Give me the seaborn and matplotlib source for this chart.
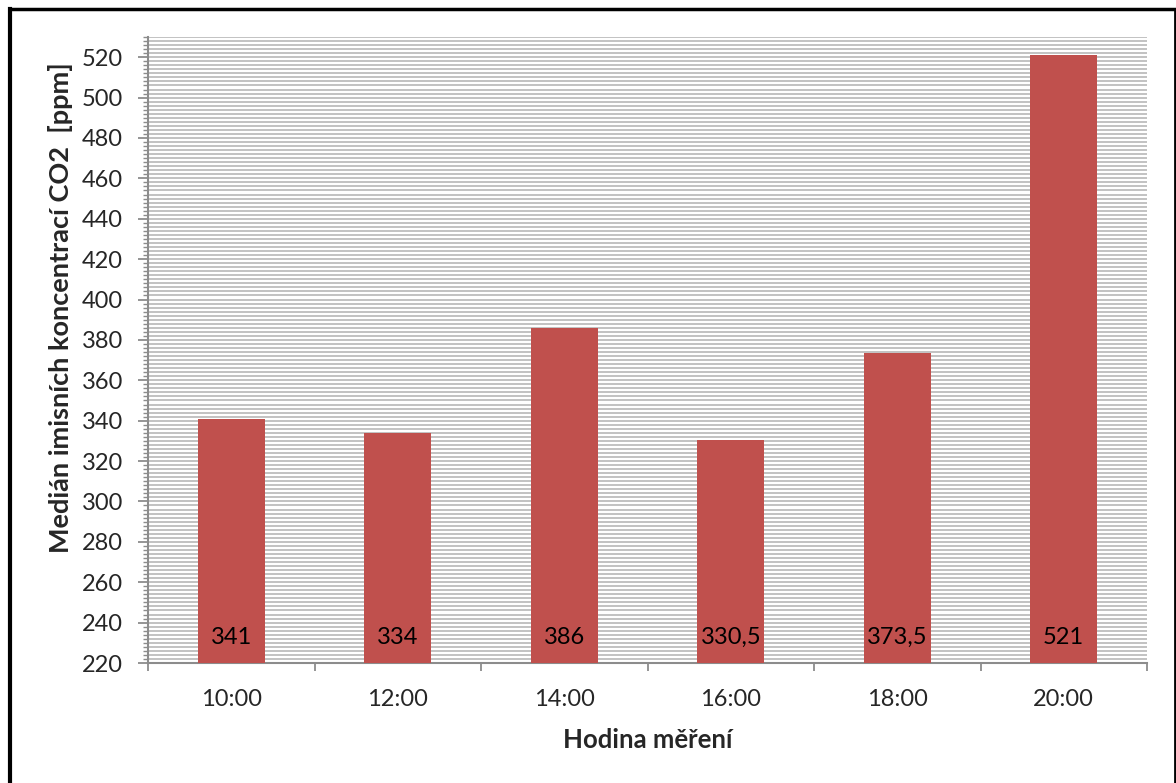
import matplotlib
matplotlib.use("Agg")
import matplotlib.pyplot as plt
import seaborn as sns
import pandas as pd
import numpy as np
from matplotlib.ticker import MultipleLocator, FixedLocator
from matplotlib.lines import Line2D

hours = ["10:00", "12:00", "14:00", "16:00", "18:00", "20:00"]
medians = [341, 334, 386, 330.5, 373.5, 521]
labels = ["341", "334", "386", "330,5", "373,5", "521"]

sns.set_theme(style="white")
plt.rcParams["font.family"] = ["Lato", "DejaVu Sans"]

df = pd.DataFrame({"hodina": hours, "median": medians})

W, H = 1176, 783
fig = plt.figure(figsize=(W / 100, H / 100), dpi=100)
ax = fig.add_axes([148 / W, 1 - 663 / H, (1147 - 148) / W, (663 - 37) / H])

sns.barplot(data=df, x="hodina", y="median", color="#C0504D", saturation=1,
            width=0.4, linewidth=0, edgecolor="none", ax=ax, zorder=3)

ax.set_ylim(220, 530)
ax.set_xlim(-0.5, len(hours) - 0.5)
ax.set_yticks(np.arange(220, 521, 20))
ax.yaxis.set_minor_locator(MultipleLocator(2))
ax.grid(True, which="both", axis="y", color="#bdbdbd", linewidth=1.3, zorder=0)
ax.set_axisbelow(True)

for s in ["top", "right"]:
    ax.spines[s].set_visible(False)
for s in ["left", "bottom"]:
    ax.spines[s].set_color("#8c8c8c")
    ax.spines[s].set_linewidth(1.5)

ax.tick_params(axis="y", which="major", direction="out", length=7, width=1.3,
               color="#8c8c8c", labelsize=17, pad=11, left=True)
ax.tick_params(axis="y", which="minor", direction="out", length=3.5, width=1.0,
               color="#8c8c8c", left=True)
# x ticks sit on the category boundaries
ax.set_xticks(np.arange(len(hours)))
ax.set_xticklabels(hours)
ax.xaxis.set_minor_locator(FixedLocator(np.arange(-0.5, len(hours), 1)))
ax.tick_params(axis="x", which="major", length=0, labelsize=17, pad=19)
ax.tick_params(axis="x", which="minor", direction="out", length=6, width=1.3,
               color="#8c8c8c", bottom=True)

for i, lab in enumerate(labels):
    ax.text(i, 232.5, lab, ha="center", va="center", fontsize=17,
            color="black", zorder=4)

ax.set_xlabel("Hodina měření", fontsize=18.5, fontweight="bold")
ax.xaxis.set_label_coords(0.5, -(740 - 663) / (663 - 37), transform=ax.transAxes)
ax.xaxis.label.set_va("center")
ax.set_ylabel("Medián imisních koncentrací CO2  [ppm]", fontsize=19.5,
              fontweight="bold")
ax.yaxis.set_label_coords(-(148 - 61) / (1147 - 148), (663 - 308) / (663 - 37),
                          transform=ax.transAxes)
ax.yaxis.label.set_va("center")

# outer chart frame (open at the bottom edge of the image)
def img_line(x0, y0, x1, y1, lw):
    fig.add_artist(Line2D([x0 / W, x1 / W], [1 - y0 / H, 1 - y1 / H],
                          transform=fig.transFigure, color="black",
                          linewidth=lw, solid_capstyle="projecting"))

img_line(9.5, 8.5, 9.5, H, 3.0)
img_line(9.5, 8.5, 1174.5, 8.5, 2.5)
img_line(1174.5, 8.5, 1174.5, H, 2.0)

fig.savefig("out.png", dpi=100)
